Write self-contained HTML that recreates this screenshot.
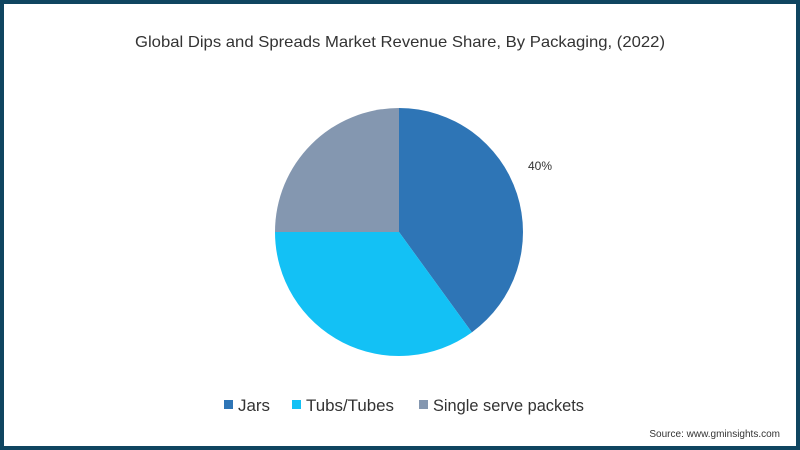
<!DOCTYPE html>
<html><head><meta charset="utf-8"><style>
body{margin:0;width:800px;height:450px;overflow:hidden;background:#fff;font-family:"Liberation Sans",sans-serif}
#frame{position:absolute;left:0;top:0;width:792px;height:442px;border:4px solid #0f4560;background:#fff}
</style></head><body>
<div id="frame"></div>
<svg id="chart" width="800" height="450" style="position:absolute;left:0;top:0">
<text x="135" y="47" textLength="530" lengthAdjust="spacingAndGlyphs" font-size="16" fill="#333">Global Dips and Spreads Market Revenue Share, By Packaging, (2022)</text>
<g id="slices"></g>
<g id="legend"></g>
<text x="780" y="437" text-anchor="end" font-size="10" fill="#333">Source: www.gminsights.com</text>
</svg>
<script>
const categories=["Jars","Tubs/Tubes","Single serve packets"];
const values=[40,35,25];
const labels=["40%","",""];
const colors=["#2e75b6","#13c1f5","#8497b0"];
const NS="http://www.w3.org/2000/svg";
const cx=399,cy=232,r=124;
const total=values.reduce((a,b)=>a+b,0);
const g=document.getElementById('slices');
let a0=0;
function pt(a,rr){return [cx+rr*Math.sin(a),cy-rr*Math.cos(a)];}
values.forEach((v,i)=>{
  const a1=a0+v/total*2*Math.PI;
  const [x0,y0]=pt(a0,r),[x1,y1]=pt(a1,r);
  const p=document.createElementNS(NS,'path');
  p.setAttribute('d',`M${cx},${cy}L${x0},${y0}A${r},${r} 0 ${a1-a0>Math.PI?1:0} 1 ${x1},${y1}Z`);
  p.setAttribute('fill',colors[i]);
  
  
  g.appendChild(p);
  if(labels[i]){
    const t=document.createElementNS(NS,'text');
    t.setAttribute('x',540);t.setAttribute('y',170);
    t.setAttribute('text-anchor','middle');t.setAttribute('font-size','12');t.setAttribute('fill','#333');
    t.textContent=labels[i];
    
    
    g.appendChild(t);
  }
  a0=a1;
});
const lg=document.getElementById('legend');
const lx=[224,292,419];
const lw=[32,88,151];
categories.forEach((c,i)=>{
  const gg=document.createElementNS(NS,'g');
  
  
  const rc=document.createElementNS(NS,'rect');
  rc.setAttribute('x',lx[i]);rc.setAttribute('y',400);rc.setAttribute('width',9);rc.setAttribute('height',9);rc.setAttribute('fill',colors[i]);
  const t=document.createElementNS(NS,'text');
  t.setAttribute('x',lx[i]+14);t.setAttribute('y',411);t.setAttribute('font-size','17');t.setAttribute('fill','#333');
  t.setAttribute('textLength',lw[i]);t.setAttribute('lengthAdjust','spacingAndGlyphs');
  t.textContent=c;
  gg.appendChild(rc);gg.appendChild(t);lg.appendChild(gg);
});
</script>
</body></html>
